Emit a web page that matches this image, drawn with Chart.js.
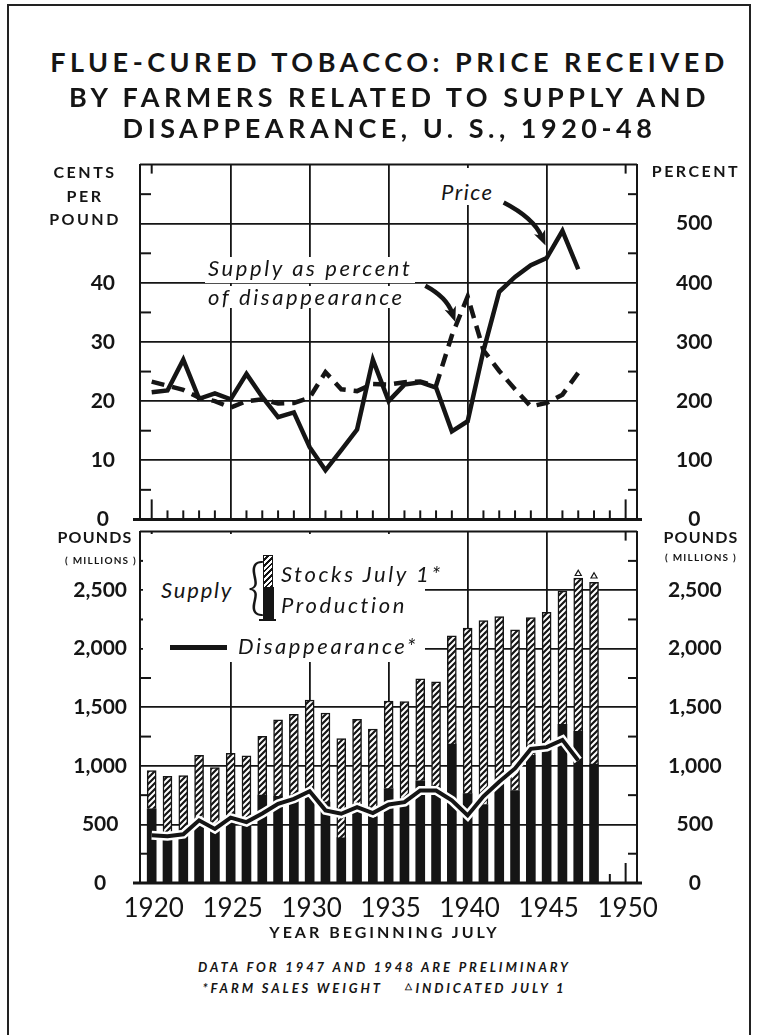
<!DOCTYPE html>
<html>
<head>
<meta charset="utf-8">
<script src="https://cdn.jsdelivr.net/npm/chart.js@4.4.0/dist/chart.umd.min.js"></script>
<style>
body { margin: 0; background: #fff; }
#page { position: relative; width: 757px; height: 1035px; overflow: hidden; background: #fff; font-family: Lato, "Open Sans", sans-serif; color: #151515; }
#frame { position: absolute; left: 7px; top: 4px; width: 740px; height: 1060px; border: 2px solid #222; }
canvas { position: absolute; left: 0; }
#top { top: 113px; }
#bottom { top: 488px; }
.t { position: absolute; white-space: nowrap; line-height: 1; }
.title { left: 0; width: 779px; text-align: center; font-weight: 700; font-size: 27px; letter-spacing: 4.5px; }
.hdr { font-weight: 700; font-size: 16px; letter-spacing: 2.5px; width: 140px; text-align: center; }
.small { font-weight: 700; font-size: 10px; letter-spacing: 1.2px; width: 140px; text-align: center; }
.note { font-style: italic; font-size: 22px; letter-spacing: 2.6px; background: #fff; }
.foot { left: 0; width: 769px; text-align: center; font-weight: 700; font-style: italic; font-size: 13px; letter-spacing: 2.9px; }
#legendBox { position: absolute; left: 143px; top: 534px; width: 282px; height: 128px; background: #fff; }
#hatchKey { position: absolute; left: 263px; top: 555px; width: 8px; height: 31px; border: 1.5px solid #151515; border-bottom: none;
  background: repeating-linear-gradient(135deg, #fff 0 2px, #151515 2px 4px); }
#blackKey { position: absolute; left: 263px; top: 587px; width: 11px; height: 33px; background: #151515; }
#keyBase { position: absolute; left: 259px; top: 619px; width: 17px; height: 2px; background: #151515; }
#lineKey { position: absolute; left: 170px; top: 645px; width: 57px; height: 5px; background: #151515; }
</style>
</head>
<body>
<div id="page">
  <div id="frame"></div>
  <canvas id="top" width="757" height="458"></canvas>
  <canvas id="bottom" width="757" height="447"></canvas>

  <div class="t title" style="top:48px">FLUE-CURED TOBACCO: PRICE RECEIVED</div>
  <div class="t title" style="top:83px">BY FARMERS RELATED TO SUPPLY AND</div>
  <div class="t title" style="top:114px">DISAPPEARANCE, U. S., 1920-48</div>

  <div class="t hdr" style="left:15px; top:164px">CENTS</div>
  <div class="t hdr" style="left:15px; top:188px">PER</div>
  <div class="t hdr" style="left:15px; top:211px">POUND</div>
  <div class="t hdr" style="left:626px; top:163px">PERCENT</div>

  <div class="t hdr" style="left:25px; top:529px; letter-spacing:1.2px">POUNDS</div>
  <div class="t small" style="left:31px; top:555px">( MILLIONS )</div>
  <div class="t hdr" style="left:631px; top:529px; letter-spacing:1.2px">POUNDS</div>
  <div class="t small" style="left:631px; top:552px">( MILLIONS )</div>

  <div class="t note" style="left:438px; top:168px; padding:13px 3px 2px; letter-spacing:1.5px">Price</div>
  <div class="t note" style="left:205px; top:257px; padding:0 3px 4px">Supply as percent</div>
  <div class="t note" style="left:205px; top:286px; padding:0 3px">of disappearance</div>

  <div id="legendBox"></div>
  <div id="hatchKey"></div>
  <div id="blackKey"></div>
  <div id="keyBase"></div>
  <div id="lineKey"></div>
  <div class="t" style="left:247px; top:553px; font-size:62px; font-weight:300;">{</div>
  <div class="t note" style="left:161px; top:579px; letter-spacing:1.8px">Supply</div>
  <div class="t note" style="left:281px; top:563px">Stocks July 1*</div>
  <div class="t note" style="left:281px; top:594px">Production</div>
  <div class="t note" style="left:238px; top:635px">Disappearance*</div>

  <div class="t" style="left:0; width:769px; text-align:center; top:924px; font-size:16px; font-weight:700; letter-spacing:3px">YEAR BEGINNING JULY</div>
  <div class="t foot" style="top:961px">DATA FOR 1947 AND 1948 ARE PRELIMINARY</div>
  <div class="t foot" style="top:981px">*FARM SALES WEIGHT &nbsp; &nbsp;<span style="font-size:9px; vertical-align:4px; font-style:normal">&#9651;</span>INDICATED JULY 1</div>
</div>

<script>
var ink = '#151515';

// crop years (year beginning July)
var years = [1920, 1921, 1922, 1923, 1924, 1925, 1926, 1927, 1928, 1929,
             1930, 1931, 1932, 1933, 1934, 1935, 1936, 1937, 1938, 1939,
             1940, 1941, 1942, 1943, 1944, 1945, 1946, 1947, 1948];

// cents per pound, 1920-47
var price = [21.5, 21.8, 27.0, 20.4, 21.3, 20.3, 24.6, 20.7, 17.3, 18.1,
             12.2, 8.3, 11.7, 15.2, 27.0, 20.0, 22.8, 23.2, 22.3, 14.9,
             16.6, 28.5, 38.5, 41.0, 43.0, 44.2, 48.8, 42.3];

// supply as percent of disappearance, 1920-47
var supplyPct = [233, 226, 219, 206, 200, 189, 200, 203, 196, 197,
                 206, 249, 220, 217, 229, 228, 232, 233, 226, 311,
                 377, 286, 251, 220, 191, 197, 211, 248];

// million pounds, 1920-48
var production = [634, 400, 440, 540, 450, 560, 540, 750, 740, 750,
                  780, 690, 385, 660, 560, 806, 660, 872, 780, 1187,
                  763, 670, 865, 790, 1090, 1150, 1355, 1295, 1016];
var stocks = [325, 511, 478, 550, 535, 548, 546, 502, 652, 690,
              781, 761, 849, 737, 755, 747, 888, 871, 938, 924,
              1413, 1571, 1409, 1372, 1177, 1160, 1138, 1309, 1550];

// million pounds, 1920-47
var disappearance = [407, 399, 416, 535, 462, 558, 520, 593, 676, 719,
                     783, 620, 591, 648, 597, 670, 690, 790, 790, 705,
                     577, 740, 865, 978, 1145, 1160, 1222, 1046];

// indicated supply July 1
var indicatedYears = [1947, 1948];
var indicated = [2640, 2619];

var yearTicks = [1920, 1925, 1930, 1935, 1940, 1945, 1950];

function pts(vals, xs) {
    xs = xs || years;
    return vals.map(function (v, i) { return { x: xs[i], y: v }; });
}

Chart.defaults.font.family = 'Lato, "Open Sans", sans-serif';
Chart.defaults.color = ink;

// diagonal hatch for the stocks part of the bars
var tile = document.createElement('canvas');
tile.width = 6; tile.height = 6;
var tg = tile.getContext('2d');
tg.fillStyle = '#fff';
tg.fillRect(0, 0, 6, 6);
tg.strokeStyle = ink;
tg.lineWidth = 2.2;
tg.beginPath();
tg.moveTo(0, 6); tg.lineTo(6, 0);
tg.moveTo(-1, 1); tg.lineTo(1, -1);
tg.moveTo(5, 7); tg.lineTo(7, 5);
tg.stroke();
var hatch = tg.createPattern(tile, 'repeat');

function seg(ctx, x1, y1, x2, y2) {
    ctx.beginPath();
    ctx.moveTo(x1, y1);
    ctx.lineTo(x2, y2);
    ctx.stroke();
}

// inner tick marks, top edge and the heavy base line
function framePlugin(halfStep, yMax) {
    return {
        id: 'frame',
        beforeDatasetsDraw: function (chart) {
            var a = chart.chartArea, x = chart.scales.x, y = chart.scales.y, ctx = chart.ctx;
            ctx.save();
            ctx.strokeStyle = ink;
            ctx.lineWidth = 2;
            seg(ctx, a.left, a.top, a.right, a.top);
            for (var v = halfStep; v < yMax; v += 2 * halfStep) {
                var py = y.getPixelForValue(v);
                seg(ctx, a.left, py, a.left + 11, py);
                seg(ctx, a.right - 9, py, a.right, py);
            }
            for (var yr = 1920; yr <= 1950; yr++) {
                var px = x.getPixelForValue(yr);
                if (yr === 1920 || yr === 1950) {
                    seg(ctx, px, a.bottom, px, a.bottom - 20);
                    seg(ctx, px, a.top, px, a.top + 9);
                } else if (yr % 5 !== 0) {
                    seg(ctx, px, a.bottom, px, a.bottom - 9);
                }
            }
            ctx.lineWidth = 3;
            seg(ctx, a.left - 7, a.bottom, a.right + 5, a.bottom);
            ctx.restore();
        }
    };
}

// the two curved pointers of the upper panel, in (year, cents)
var pointers = [
    [[1942.28, 53.6], [1944.17, 51.0], [1944.93, 46.3]],
    [[1937.32, 39.5], [1938.65, 37.6], [1939.22, 33.4]]
];

var arrowPlugin = {
    id: 'arrows',
    afterDatasetsDraw: function (chart) {
        var x = chart.scales.x, y = chart.scales.y, ctx = chart.ctx;
        ctx.save();
        ctx.strokeStyle = ink;
        ctx.fillStyle = ink;
        pointers.forEach(function (p) {
            var q = p.map(function (c) { return { x: x.getPixelForValue(c[0]), y: y.getPixelForValue(c[1]) }; });
            var ang = Math.atan2(q[2].y - q[1].y, q[2].x - q[1].x);
            var cs = Math.cos(ang), sn = Math.sin(ang);
            ctx.lineWidth = 4.5;
            ctx.lineCap = 'butt';
            ctx.beginPath();
            ctx.moveTo(q[0].x, q[0].y);
            ctx.quadraticCurveTo(q[1].x, q[1].y, q[2].x - 10 * cs, q[2].y - 10 * sn);
            ctx.stroke();
            ctx.beginPath();
            ctx.moveTo(q[2].x, q[2].y);
            ctx.lineTo(q[2].x - 15 * cs + 6 * sn, q[2].y - 15 * sn - 6 * cs);
            ctx.lineTo(q[2].x - 11 * cs, q[2].y - 11 * sn);
            ctx.lineTo(q[2].x - 15 * cs - 6 * sn, q[2].y - 15 * sn + 6 * cs);
            ctx.closePath();
            ctx.fill();
        });
        ctx.restore();
    }
};

function xScale(showLabels) {
    return {
        type: 'linear',
        min: 1919.26,
        max: 1950.72,
        offset: false,
        afterBuildTicks: function (s) { s.ticks = yearTicks.map(function (v) { return { value: v }; }); },
        afterFit: function (s) { s.height = showLabels ? 52 : 14; },
        border: { display: false },
        grid: {
            offset: false,
            drawTicks: false,
            lineWidth: 1.8,
            color: function (c) { return (c.tick && (c.tick.value === 1920 || c.tick.value === 1950)) ? 'rgba(0,0,0,0)' : ink; }
        },
        ticks: {
            display: showLabels,
            padding: 10,
            labelOffset: 2,
            font: { size: 26 },
            callback: function (v) { return String(v); }
        }
    };
}

function yScale(pos, max, step, labelMax, pad, width, grid, fmt) {
    return {
        type: 'linear',
        position: pos,
        min: 0,
        max: max,
        afterFit: function (s) { s.width = width; },
        border: { display: true, color: ink, width: 2 },
        grid: {
            display: grid,
            drawTicks: false,
            lineWidth: 1.8,
            color: function (c) { return (c.tick && (c.tick.value === 0 || c.tick.value === max)) ? 'rgba(0,0,0,0)' : ink; }
        },
        ticks: {
            stepSize: step,
            padding: pad,
            crossAlign: 'center',
            font: { size: 21, weight: 'bold' },
            callback: function (v) { return v > labelMax ? '' : fmt(v); }
        }
    };
}

function plain(v) { return String(v); }
function comma(v) { return v.toLocaleString('en-US'); }

var topX = xScale(false);
var botX = xScale(true);
botX.stacked = true;
var botY = yScale('left', 3000, 500, 2500, 13, 140, true, comma);
botY.stacked = true;

new Chart(document.getElementById('top'), {
    type: 'line',
    data: {
        datasets: [{
            label: 'Price',
            data: pts(price),
            yAxisID: 'y',
            borderColor: ink,
            borderWidth: 4.5,
            borderJoinStyle: 'miter',
            pointRadius: 0,
            tension: 0
        }, {
            label: 'Supply as percent of disappearance',
            data: pts(supplyPct),
            yAxisID: 'y2',
            borderColor: ink,
            borderWidth: 4.5,
            borderDash: [13, 8],
            pointRadius: 0,
            tension: 0
        }]
    },
    options: {
        responsive: false,
        animation: false,
        events: [],
        layout: { padding: 0 },
        plugins: { legend: { display: false }, tooltip: { enabled: false } },
        scales: {
            x: topX,
            y: yScale('left', 60, 10, 40, 25, 140, true, plain),
            y2: yScale('right', 600, 100, 500, 39, 120, false, plain)
        }
    },
    plugins: [framePlugin(5, 60), arrowPlugin]
});

new Chart(document.getElementById('bottom'), {
    type: 'bar',
    data: {
        datasets: [{
            type: 'scatter',
            label: 'Indicated July 1',
            data: pts(indicated, indicatedYears),
            stack: 'ind',
            pointStyle: 'triangle',
            pointRadius: 3.5,
            borderColor: ink,
            borderWidth: 1.2,
            backgroundColor: '#fff',
            order: 0
        }, {
            type: 'line',
            label: 'Disappearance',
            data: pts(disappearance),
            stack: 'd1',
            borderColor: ink,
            borderWidth: 4,
            pointRadius: 0,
            tension: 0,
            order: 1
        }, {
            type: 'line',
            label: 'casing',
            data: pts(disappearance),
            stack: 'd2',
            borderColor: '#fff',
            borderWidth: 9,
            pointRadius: 0,
            tension: 0,
            order: 2
        }, {
            label: 'Production',
            data: pts(production),
            stack: 'supply',
            backgroundColor: ink,
            borderWidth: 0,
            barThickness: 9,
            order: 3
        }, {
            label: 'Stocks July 1',
            data: pts(stocks),
            stack: 'supply',
            backgroundColor: hatch,
            borderColor: ink,
            borderWidth: 1.5,
            borderSkipped: 'bottom',
            barThickness: 9,
            order: 3
        }]
    },
    options: {
        responsive: false,
        animation: false,
        events: [],
        layout: { padding: 0 },
        plugins: { legend: { display: false }, tooltip: { enabled: false } },
        scales: {
            x: botX,
            y: botY,
            y2: yScale('right', 3000, 500, 2500, 31, 120, false, comma)
        }
    },
    plugins: [framePlugin(250, 3000)]
});
</script>
</body>
</html>
